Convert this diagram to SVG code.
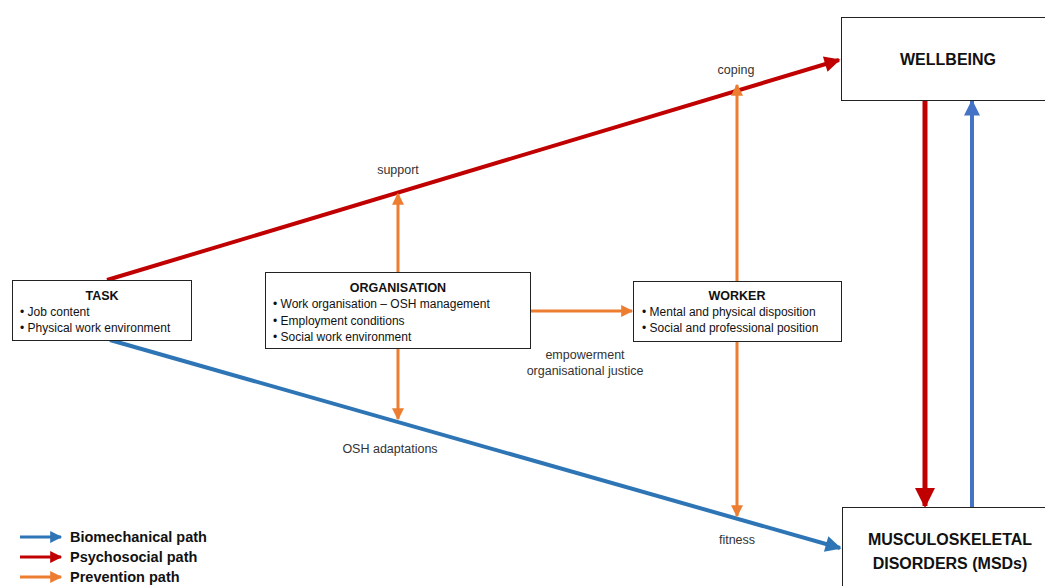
<svg xmlns="http://www.w3.org/2000/svg" width="1045" height="586" viewBox="0 0 1045 586">
<defs>
<style>
.box{fill:#fff;stroke:#222;stroke-width:1}
text{font-family:"Liberation Sans",Arial,sans-serif;fill:#111}
.t{font-size:12.5px;font-weight:bold;text-anchor:middle}
.b{font-size:12px}
.big{font-size:16px;font-weight:bold;text-anchor:middle}
.lab{font-size:12.5px;text-anchor:middle;fill:#333}
.leg{font-size:14.5px;font-weight:bold}
.red{stroke:#C00000;fill:none}
.blue{stroke:#2E75B6;fill:none}
.blue2{stroke:#4472C4;fill:none}
.or{stroke:#ED7D31;fill:none;stroke-width:3}
</style>
<marker id="mr" viewBox="0 0 10 10" refX="9" refY="5" markerWidth="4.5" markerHeight="4" orient="auto" markerUnits="strokeWidth"><path d="M0,0L10,5L0,10z" fill="#C00000"/></marker>
<marker id="mb" viewBox="0 0 10 10" refX="9" refY="5" markerWidth="4.5" markerHeight="4" orient="auto" markerUnits="strokeWidth"><path d="M0,0L10,5L0,10z" fill="#2E75B6"/></marker>
<marker id="mb2" viewBox="0 0 10 10" refX="9" refY="5" markerWidth="4.5" markerHeight="4" orient="auto" markerUnits="strokeWidth"><path d="M0,0L10,5L0,10z" fill="#4472C4"/></marker>
<marker id="mo" viewBox="0 0 10 10" refX="9" refY="5" markerWidth="4.5" markerHeight="4" orient="auto" markerUnits="strokeWidth"><path d="M0,0L10,5L0,10z" fill="#ED7D31"/></marker>
</defs>
<rect width="1045" height="586" fill="#fff"/>
<g id="connectors">
<line class="red" stroke-width="4" x1="107" y1="280" x2="839" y2="60" marker-end="url(#mr)"/>
<line class="blue" stroke-width="4" x1="110" y1="340" x2="840" y2="548" marker-end="url(#mb)"/>
<line class="or" x1="398" y1="272" x2="398" y2="194" marker-end="url(#mo)"/>
<line class="or" x1="398" y1="348" x2="398" y2="419" marker-end="url(#mo)"/>
<line class="or" x1="530" y1="311" x2="632" y2="311" marker-end="url(#mo)"/>
<line class="or" x1="737" y1="281" x2="737" y2="85" marker-end="url(#mo)"/>
<line class="or" x1="737" y1="341" x2="737" y2="516" marker-end="url(#mo)"/>
<line class="red" stroke-width="5" x1="925" y1="101" x2="925" y2="506" marker-end="url(#mr)"/>
<line class="blue2" stroke-width="4" x1="972" y1="507" x2="972" y2="101" marker-end="url(#mb2)"/>
<text class="lab" x="736" y="74">coping</text>
<text class="lab" x="398" y="174">support</text>
<text class="lab" x="390" y="453">OSH adaptations</text>
<text class="lab" x="737" y="544">fitness</text>
<text class="lab" x="585" y="359">empowerment</text>
<text class="lab" x="585" y="375">organisational justice</text>
</g>
<g id="task">
<rect class="box" x="12.5" y="280.5" width="179" height="60"/>
<text class="t" x="102" y="300">TASK</text>
<text class="b" x="20" y="316">• Job content</text>
<text class="b" x="20" y="332">• Physical work environment</text>
</g>
<g id="organisation">
<rect class="box" x="265.5" y="272.5" width="265" height="76"/>
<text class="t" x="398" y="292">ORGANISATION</text>
<text class="b" x="273" y="308">• Work organisation – OSH management</text>
<text class="b" x="273" y="325">• Employment conditions</text>
<text class="b" x="273" y="341">• Social work environment</text>
</g>
<g id="worker">
<rect class="box" x="633.5" y="281.5" width="208" height="60"/>
<text class="t" x="737" y="300">WORKER</text>
<text class="b" x="642" y="316">• Mental and physical disposition</text>
<text class="b" x="642" y="332">• Social and professional position</text>
</g>
<g id="wellbeing">
<rect class="box" x="841.5" y="17.5" width="210" height="83"/>
<text class="big" x="948" y="65">WELLBEING</text>
</g>
<g id="msd">
<rect class="box" x="842.5" y="507.5" width="210" height="90"/>
<text class="big" x="950" y="545">MUSCULOSKELETAL</text>
<text class="big" x="950" y="569">DISORDERS (MSDs)</text>
</g>
<g id="legend">
<line class="blue" stroke-width="3" x1="20" y1="537" x2="61" y2="537" marker-end="url(#mb)"/>
<line class="red" stroke-width="3" x1="20" y1="557" x2="61" y2="557" marker-end="url(#mr)"/>
<line class="or" x1="20" y1="577" x2="61" y2="577" marker-end="url(#mo)"/>
<text class="leg" x="70" y="542">Biomechanical path</text>
<text class="leg" x="70" y="562">Psychosocial path</text>
<text class="leg" x="70" y="582">Prevention path</text>
</g>
</svg>
